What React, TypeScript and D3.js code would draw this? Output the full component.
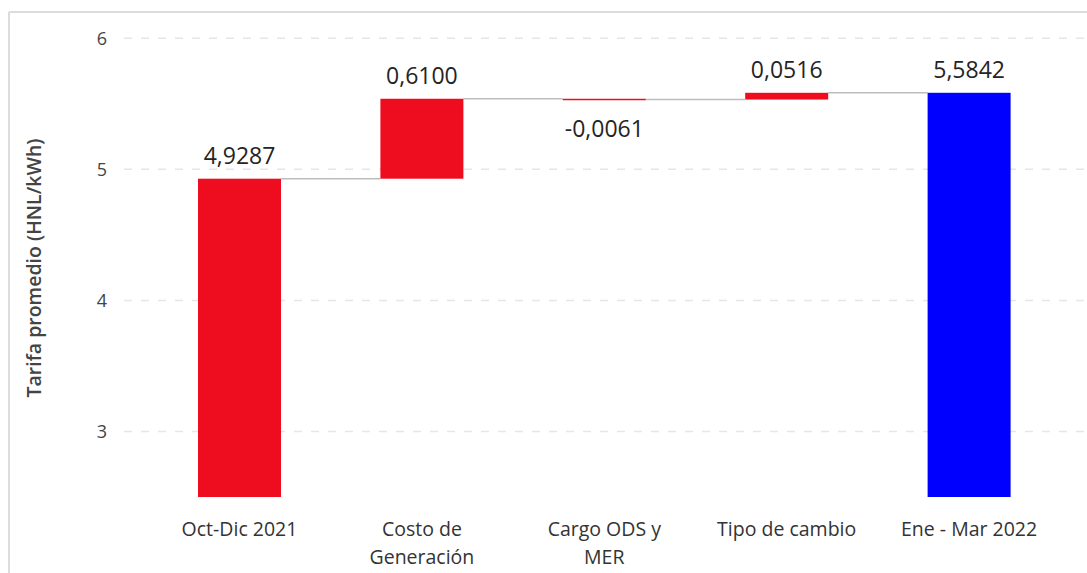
import React from "react";
import * as d3 from "d3";

const categoryLines: string[][] = [
  ["Oct-Dic 2021"],
  ["Costo de", "Generación"],
  ["Cargo ODS y", "MER"],
  ["Tipo de cambio"],
  ["Ene - Mar 2022"],
];
const values: number[] = [4.9287, 0.61, -0.0061, 0.0516, 5.5842];
const kinds: string[] = ["start", "delta", "delta", "delta", "end"];
const yTicks: number[] = [3, 4, 5, 6];
const yTitle = "Tarifa promedio (HNL/kWh)";

const W = 1087;
const H = 573;
const FONT = "'Open Sans', 'Noto Sans', sans-serif";
const RED = "#EE0D1E";
const BLUE = "#0000FE";

export default function App() {
  const x = d3
    .scaleBand<number>()
    .domain(values.map((_, i) => i))
    .range([148.3, 1060.3])
    .paddingInner(0.545)
    .paddingOuter(0.2725);
  const y = d3.scaleLinear().domain([2.5, 6]).range([497, 38.3]);
  const base = y.domain()[0];

  let running = 0;
  const bars = values.map((v, i) => {
    let start: number, end: number;
    if (kinds[i] !== "delta") {
      start = base;
      end = v;
      running = v;
    } else {
      start = running;
      end = running + v;
      running = end;
    }
    return { i, v, start, end, kind: kinds[i] };
  });

  const fmt = (v: number) => d3.format(".4f")(v).replace("−", "-").replace(".", ",");
  const bw = x.bandwidth();

  return (
    <svg
      width={W}
      height={H}
      style={{ position: "absolute", left: 0, top: 0, background: "#fff" }}
      fontFamily={FONT}
    >
      <line x1={9} x2={W} y1={12} y2={12} stroke="#dcdcdc" strokeWidth={2} />
      <line x1={9} x2={9} y1={12} y2={H} stroke="#dcdcdc" strokeWidth={2} />

      {yTicks.map((t) => (
        <g key={t}>
          <line
            x1={124}
            x2={W}
            y1={y(t)}
            y2={y(t)}
            stroke="#e6e6e6"
            strokeWidth={1.5}
            strokeDasharray="8,9"
          />
          <text
            x={107}
            y={y(t)}
            dy="0.35em"
            textAnchor="end"
            fontSize={18}
            fill="#444"
          >
            {t}
          </text>
        </g>
      ))}

      <text
        transform={`translate(41,268) rotate(-90)`}
        textAnchor="middle"
        fontSize={19.5}
        fontWeight={600}
        fill="#444"
      >
        {yTitle}
      </text>

      {bars.slice(0, -1).map((b, k) => {
        const next = bars[k + 1];
        const x1 = (x(b.i) as number) + bw;
        const x2 = x(next.i) as number;
        return (
          <line
            key={"c" + k}
            x1={x1}
            x2={x2}
            y1={y(b.end)}
            y2={y(b.end)}
            stroke="#bdbdbd"
            strokeWidth={1.5}
          />
        );
      })}

      {bars.map((b) => {
        const top = Math.min(y(b.start), y(b.end));
        const h = Math.max(Math.abs(y(b.start) - y(b.end)), 1.5);
        return (
          <rect
            key={"b" + b.i}
            x={x(b.i)}
            y={top}
            width={bw}
            height={h}
            fill={b.kind === "end" ? BLUE : RED}
          />
        );
      })}

      {bars.map((b) => {
        const cx = (x(b.i) as number) + bw / 2;
        const top = Math.min(y(b.start), y(b.end));
        const bottom = Math.max(y(b.start), y(b.end));
        const ly = b.v < 0 ? bottom + 37 : top - 15;
        return (
          <text
            key={"l" + b.i}
            x={cx}
            y={ly}
            textAnchor="middle"
            fontSize={23}
            fill="#252423"
          >
            {fmt(b.v)}
          </text>
        );
      })}

      {categoryLines.map((lines, i) => (
        <text
          key={"x" + i}
          x={(x(i) as number) + bw / 2}
          y={535.5}
          textAnchor="middle"
          fontSize={19.5}
          fill="#333"
        >
          {lines.map((ln, j) => (
            <tspan key={j} x={(x(i) as number) + bw / 2} dy={j === 0 ? 0 : 28}>
              {ln}
            </tspan>
          ))}
        </text>
      ))}
    </svg>
  );
}
